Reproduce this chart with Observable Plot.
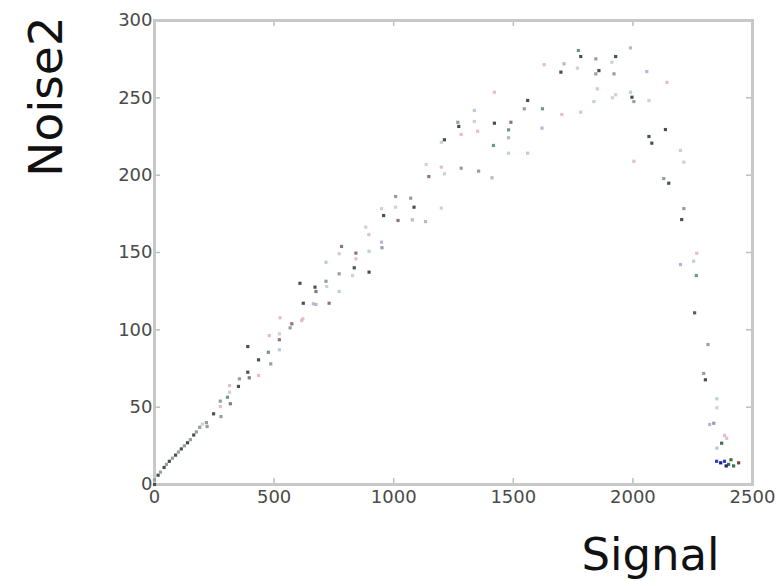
<!DOCTYPE html>
<html>
<head>
<meta charset="utf-8">
<script src="https://cdn.jsdelivr.net/npm/d3@7"></script>
<script src="https://cdn.jsdelivr.net/npm/@observablehq/plot@0.6"></script>
<style>
  body { margin: 0; background: #fff; }
</style>
</head>
<body>
<div id="chart"></div>
<script>
// ---- data ----
const signal = [
  0, 0, 15, 25, 40, 50, 62, 75, 88, 100, 112, 125, 138, 150, 164, 175, 189, 200,
  217, 220, 247, 278, 275, 275, 317, 305, 314, 314, 355, 351, 390, 396, 435, 435, 486, 390, 476, 522, 480, 522, 522,
  567, 574, 525, 620, 615, 622, 664, 675, 730, 608, 671, 675, 717, 720, 772, 717, 772, 835, 828, 897,
  782, 772, 842, 842, 897, 883, 896, 949, 951, 949, 958, 1008, 1008, 1018, 1071, 1085, 1078, 1133,
  1136, 1147, 1199, 1212, 1282, 1355, 1411, 1199, 1199, 1212, 1282, 1268, 1272, 1337, 1337, 1351, 1421, 1417, 1421,
  1480, 1480, 1490, 1480, 1560, 1560, 1546, 1622, 1620, 1629, 1712, 1699, 1703, 1782, 1768, 1772, 1782,
  1845, 1845, 1851, 1837, 1914, 1858, 1912, 1928, 1921, 1990, 2058, 2142, 1928, 1990, 1996, 2004, 2067,
  2136, 2067, 2079, 2199, 2213, 2004, 2129, 2150, 2213, 2204, 2267, 2254, 2199, 2265, 2258,
  2314, 2296, 2303, 2351, 2351, 2338, 2321, 2383, 2392, 2371, 2351,
  2350, 2367, 2383, 2400, 2421, 2442, 2410, 2390
];
const noise = [
  0, 3, 6, 8, 11, 13, 15, 17, 19, 21, 23, 25, 27, 29, 32, 34, 37, 39,
  40, 37.5, 45.7, 43.9, 53.9, 50.4, 52.2, 56.4, 64, 59.7, 68.3, 63.4, 72.6, 69, 70.5, 80.6, 78, 89.2, 85.5, 87.1, 96.3, 97.4, 93.6,
  101.3, 103.9, 107.8, 107.1, 106, 117.2, 116.8, 116.4, 117.2, 130.1, 127.6, 124.8, 131.4, 128, 124.8, 143.7, 136.2, 140.1, 135.1, 137.3,
  153.9, 149.2, 149.6, 145.9, 150.8, 166.4, 161.6, 156.7, 153.1, 178.3, 173.9, 186.2, 179.3, 170.7, 185.1, 179.3, 171.1, 170,
  206.9, 199.1, 205.2, 200.9, 204.5, 202.6, 198.3, 178.7, 221.3, 222.9, 226.3, 234.2, 231.5, 241.8, 234.7, 228.4, 233.6, 219.2, 253.6,
  229.3, 224.2, 234.2, 214.2, 214.2, 248.3, 242.9, 242.9, 230.4, 271.4, 272, 266.6, 239.2, 240.7, 269.2, 280.6, 276.7,
  275.2, 265.5, 255.8, 247.6, 250, 267.6, 273, 276.7, 265.5, 282.3, 267, 260, 252, 253.6, 250.4, 247.6, 248.3,
  229.5, 225, 220.7, 216, 208.4, 209, 197.8, 194.8, 178.4, 171.3, 149.5, 144.4, 142.2, 135.1, 111,
  90.5, 71.8, 67.7, 55.4, 49.6, 39.6, 38.8, 31.7, 29.9, 26.7, 23.5,
  15, 14, 15, 13, 12, 14, 16, 12
];
const series = [
  "dark", "gray", "dark", "gray", "dark", "gray", "dark", "gray", "dark", "gray", "dark", "gray", "dark", "gray", "dark", "gray", "gray", "light",
  "gray", "gray", "dark", "gray", "gray", "pink", "brown", "teal", "pink", "light", "gray", "dark", "dark", "brown", "pink", "dark", "gray", "dark", "teal", "lightblue", "pink", "light", "brown",
  "gray", "brown", "pink", "pink", "pink", "dark", "lavender", "lavender", "brown", "dark", "dark", "brown", "gray", "light", "lightgreen", "lightblue", "gray", "dark", "light", "dark",
  "brown", "light", "brown", "pink", "lightgreen", "light", "pink", "lavender", "gray", "light", "dark", "gray", "light", "brown", "gray", "dark", "lavender", "lavender",
  "light", "brown", "pink", "light", "gray", "gray", "lavender", "light", "light", "dark", "pink", "gray", "dark", "lightblue", "light", "pink", "dark", "teal", "pink",
  "teal", "lavender", "brown", "lightgreen", "pink", "dark", "gray", "teal", "lavender", "pink", "lavender", "dark", "pink", "pink", "light", "teal", "dark",
  "gray", "gray", "pink", "lightgreen", "light", "dark", "light", "dark", "gray", "lavender", "lavender", "pink", "light", "lightgreen", "dark", "gray", "light",
  "dark", "dark", "dark", "light", "light", "pink", "gray", "dark", "gray", "dark", "pink", "lightgreen", "lavender", "teal", "purple",
  "gray", "gray", "dark", "lightgreen", "light", "gray", "lavender", "pink", "pink", "green", "lightblue",
  "blue", "navy", "blue", "green", "green", "darkred", "green", "navy"
];
const seriesNames  = ["dark", "gray", "light", "pink", "lavender", "lightgreen", "lightblue", "brown", "teal", "purple", "green", "blue", "navy", "darkred"];
const seriesColors = ["#46514d", "#979e9e", "#ccd2d0", "#e6bcc7", "#bab4da", "#bcd4c3", "#b6cadc", "#93707a", "#6b9790", "#62537a", "#3a7446", "#2b3be0", "#1a2270", "#7e4230"];
const xTicks = [0, 500, 1000, 1500, 2000, 2500];
const yTicks = [0, 50, 100, 150, 200, 250, 300];
const xLabel = "Signal";
const yLabel = "Noise2";

const data = signal.map((s, i) => ({signal: s, noise: noise[i], series: series[i]}));

const W = 776, H = 581, mL = 154, mR = 24, mT = 20, mB = 97;
const frameW = W - mL - mR, frameH = H - mT - mB;
const tick = 6;

const chart = Plot.plot({
  width: W, height: H,
  marginLeft: mL, marginRight: mR, marginTop: mT, marginBottom: mB,
  style: {fontFamily: "DejaVu Sans", fontSize: "18px", color: "#4a4a4a", background: "#fff", overflow: "visible"},
  x: {domain: [0, 2500], ticks: xTicks, tickFormat: d3.format("d"), tickSize: 0, tickPadding: 6, label: null},
  y: {domain: [0, 300], ticks: yTicks, tickFormat: d3.format("d"), tickSize: 0, tickPadding: 2, label: null},
  color: {domain: seriesNames, range: seriesColors},
  marks: [
    Plot.ruleX(xTicks.slice(1, -1), {x: d => d, stroke: "#bdbdbd", strokeWidth: 1.5, insetTop: frameH - tick}),
    Plot.ruleX(xTicks.slice(1, -1), {x: d => d, stroke: "#bdbdbd", strokeWidth: 1.5, insetBottom: frameH - tick}),
    Plot.ruleY(yTicks.slice(1, -1), {y: d => d, stroke: "#bdbdbd", strokeWidth: 1.5, insetRight: frameW - tick}),
    Plot.ruleY(yTicks.slice(1, -1), {y: d => d, stroke: "#bdbdbd", strokeWidth: 1.5, insetLeft: frameW - tick}),
    Plot.frame({stroke: "#c8c8c8", strokeWidth: 3}),
    Plot.dot(data, {x: "signal", y: "noise", fill: "series", symbol: "square", r: 1.8}),
    Plot.text([yLabel], {text: d => d, frameAnchor: "top-left", rotate: -90, dx: -108, dy: 76,
      fontSize: 47, fill: "#111", textAnchor: "middle", lineAnchor: "middle"}),
    Plot.text([xLabel], {text: d => d, frameAnchor: "bottom-right", dx: -102, dy: 71,
      fontSize: 45, fill: "#111", textAnchor: "middle", lineAnchor: "middle"})
  ]
});
document.getElementById("chart").appendChild(chart);
</script>
</body>
</html>
